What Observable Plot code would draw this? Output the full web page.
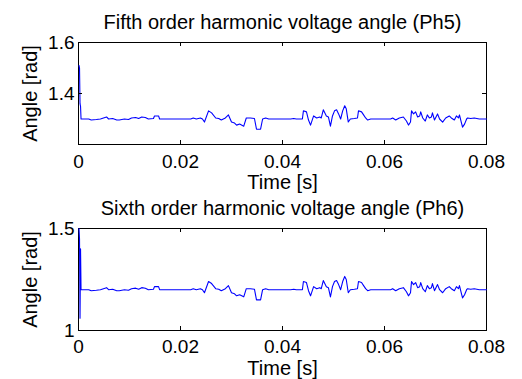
<!DOCTYPE html>
<html><head><meta charset="utf-8">
<script src="https://cdn.jsdelivr.net/npm/d3@7"></script>
<script src="https://cdn.jsdelivr.net/npm/@observablehq/plot@0.6"></script>
<style>
body{margin:0;background:#fff;}
#chart{width:522px;height:379px;font-family:"Liberation Sans",Arial,Helvetica,sans-serif;}
#chart svg{display:block;}
</style></head><body><div id="chart"></div>
<script>
const time = [0.0001,0.0002,0.0003,0.0004,0.0005,
0.0006,0.0020,0.0025,0.0035,0.0043,0.0055,0.0059,0.0067,0.0075,0.0080,0.0090,0.0098,0.0104,0.0112,0.0118,0.0124,0.0131,0.0137,0.0147,0.0149,0.0157,0.0159,0.0220,
0.0225,0.0231,0.0239,0.0243,0.0247,0.0255,0.0261,0.0269,0.0275,0.0280,0.0288,0.0294,0.0300,0.0306,0.0310,0.0316,0.0324,0.0329,0.0337,0.0345,0.0349,0.0357,0.0361,0.0367,0.0373,0.0416,0.0422,0.0427,0.0439,
0.0441,0.0447,0.0451,0.0455,0.0461,0.0467,0.0473,0.0476,0.0480,0.0486,0.0490,0.0494,0.0498,0.0502,0.0506,0.0510,0.0514,0.0518,0.0522,0.0525,0.0529,0.0533,0.0541,0.0547,0.0549,0.0555,0.0559,0.0563,0.0567,0.0573,0.0612,
0.0616,0.0622,0.0629,0.0637,0.0643,0.0647,0.0651,0.0653,0.0657,0.0661,0.0665,0.0669,0.0671,0.0675,0.0680,0.0684,0.0688,0.0692,0.0694,0.0698,0.0704,0.0708,0.0714,0.0720,0.0727,0.0731,0.0737,0.0741,0.0745,0.0747,0.0751,0.0753,0.0757,0.0761,0.0763,0.0769,0.0776,0.0786,0.0800];

const ph5 = [1.51,1.50,1.36,1.35,1.30,
1.300,1.300,1.296,1.298,1.300,1.308,1.300,1.302,1.296,1.296,1.300,1.298,1.304,1.306,1.302,1.308,1.306,1.300,1.302,1.312,1.312,1.300,1.300,
1.304,1.300,1.304,1.300,1.288,1.332,1.324,1.304,1.302,1.296,1.304,1.316,1.288,1.284,1.276,1.280,1.272,1.304,1.304,1.302,1.260,1.260,1.300,1.304,1.300,1.300,1.302,1.300,1.300,
1.332,1.328,1.296,1.276,1.312,1.304,1.308,1.304,1.336,1.312,1.308,1.272,1.312,1.332,1.336,1.320,1.300,1.332,1.352,1.340,1.288,1.300,1.302,1.304,1.332,1.328,1.316,1.304,1.296,1.300,1.300,
1.304,1.296,1.304,1.308,1.292,1.276,1.288,1.332,1.320,1.328,1.308,1.312,1.328,1.304,1.292,1.316,1.304,1.308,1.324,1.296,1.320,1.300,1.288,1.304,1.312,1.304,1.296,1.312,1.304,1.316,1.284,1.268,1.280,1.300,1.304,1.302,1.304,1.300,1.300];

const ph6 = [1.50,1.45,1.06,1.40,1.20,
1.200,1.200,1.195,1.1975,1.200,1.210,1.200,1.2025,1.195,1.195,1.200,1.1975,1.205,1.2075,1.2025,1.210,1.2075,1.200,1.2025,1.215,1.215,1.200,1.200,
1.205,1.200,1.205,1.200,1.185,1.240,1.230,1.205,1.2025,1.195,1.205,1.220,1.185,1.180,1.170,1.175,1.165,1.205,1.205,1.2025,1.150,1.150,1.200,1.205,1.200,1.200,1.2025,1.200,1.200,
1.240,1.235,1.195,1.170,1.215,1.205,1.210,1.205,1.245,1.215,1.210,1.165,1.215,1.240,1.245,1.225,1.200,1.240,1.265,1.250,1.185,1.200,1.2025,1.205,1.240,1.235,1.220,1.205,1.195,1.200,1.200,
1.205,1.195,1.205,1.210,1.190,1.170,1.185,1.240,1.225,1.235,1.210,1.215,1.235,1.205,1.190,1.220,1.205,1.210,1.230,1.195,1.225,1.200,1.185,1.205,1.215,1.205,1.195,1.215,1.205,1.220,1.180,1.160,1.175,1.200,1.205,1.2025,1.205,1.200,1.200];

const xTicks = [0, 0.02, 0.04, 0.06, 0.08];
const xTickLabels = ["0", "0.02", "0.04", "0.06", "0.08"];
const xInner = [0.02, 0.04, 0.06];
const ph5Ticks = [1.4, 1.6];
const ph5TickLabels = ["1.4", "1.6"];
const ph5Inner = [1.4];
const ph6Ticks = [1, 1.5];
const ph6TickLabels = ["1", "1.5"];
const ph6Inner = [];
const titles = ["Fifth order harmonic voltage angle (Ph5)", "Sixth order harmonic voltage angle (Ph6)"];
const xLabel = "Time [s]";
const yLabel = "Angle [rad]";

const FONT = '"Liberation Sans", Arial, Helvetica, sans-serif';

function panel({values, yDomain, yTicks, yTickLabels, yInner, title, height, marginTop, marginBottom, tickPad}) {
  const fw = 408, fh = 102;
  const data = time.map((t, i) => ({t, v: values[i]}));
  return Plot.plot({
    width: 522, height, marginLeft: 78, marginRight: 36, marginTop, marginBottom,
    style: {fontFamily: FONT, fontSize: "19px", color: "black", background: "white", overflow: "visible"},
    x: {domain: [0, 0.08]},
    y: {domain: yDomain},
    marks: [
      Plot.frame({stroke: "black", strokeWidth: 1}),
      Plot.line(data, {x: "t", y: "v", stroke: "#0000ff", strokeWidth: 1.1}),
      Plot.tickX(xInner, {x: d => d, insetTop: fh - 4, stroke: "black"}),
      Plot.tickX(xInner, {x: d => d, insetBottom: fh - 4, stroke: "black"}),
      Plot.tickY(yInner, {y: d => d, insetRight: fw - 4, stroke: "black"}),
      Plot.tickY(yInner, {y: d => d, insetLeft: fw - 4, stroke: "black"}),
      Plot.axisX({ticks: xTicks, tickFormat: d => xTickLabels[xTicks.indexOf(d)], tickSize: 0, tickPadding: tickPad, label: null, fontSize: 19}),
      Plot.axisY({ticks: yTicks, tickFormat: d => yTickLabels[yTicks.indexOf(d)], tickSize: 0, tickPadding: 4, label: null, fontSize: 19}),
      Plot.text([title], {text: d => d, frameAnchor: "top", lineAnchor: "bottom", dy: -14, fontSize: 20}),
      Plot.text([xLabel], {text: d => d, frameAnchor: "bottom", lineAnchor: "bottom", dy: 44, fontSize: 20}),
      Plot.text([yLabel], {text: d => d, frameAnchor: "left", textAnchor: "middle", lineAnchor: "middle", rotate: -90, dx: -48, fontSize: 20})
    ]
  });
}

const root = document.getElementById("chart");
root.appendChild(panel({values: ph5, yDomain: [1.2, 1.6], yTicks: ph5Ticks, yTickLabels: ph5TickLabels, yInner: ph5Inner,
  title: titles[0], height: 190, marginTop: 42, marginBottom: 46, tickPad: 10}));
root.appendChild(panel({values: ph6, yDomain: [1, 1.5], yTicks: ph6Ticks, yTickLabels: ph6TickLabels, yInner: ph6Inner,
  title: titles[1], height: 189, marginTop: 38, marginBottom: 49, tickPad: 9}));
</script></body></html>
